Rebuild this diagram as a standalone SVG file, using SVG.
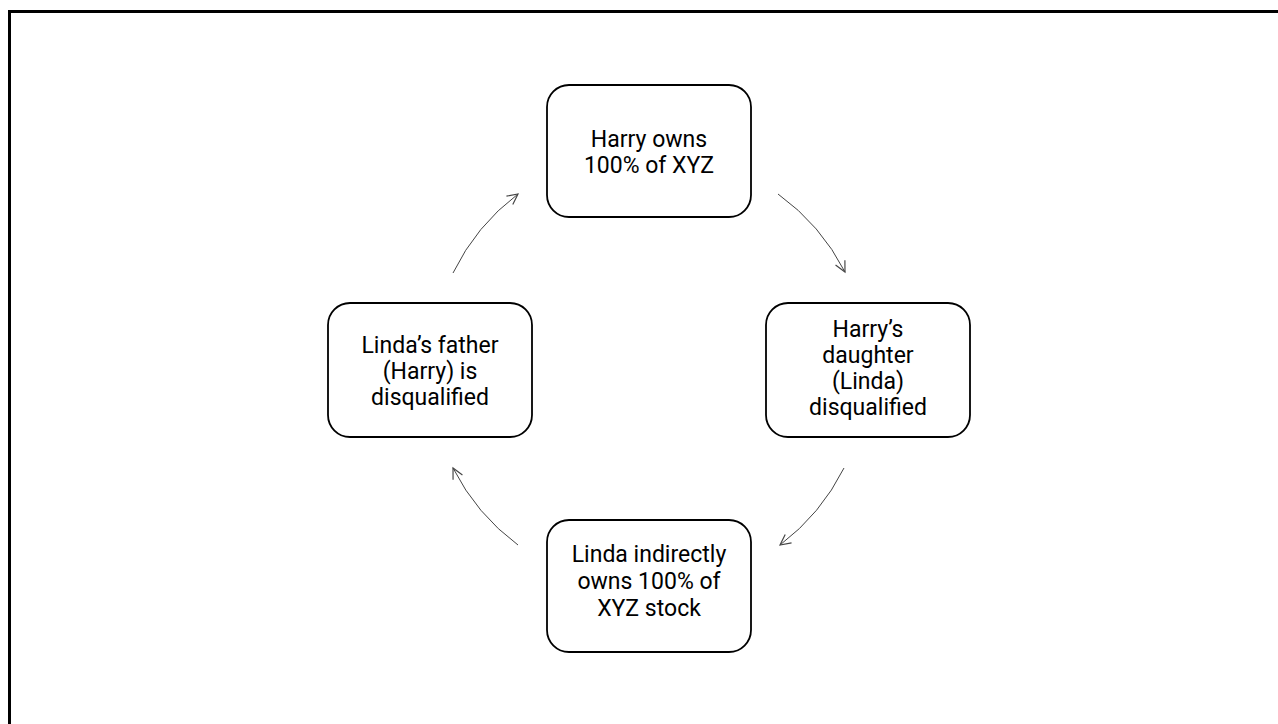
<svg xmlns="http://www.w3.org/2000/svg" width="1278" height="724" viewBox="0 0 1278 724">
<style>
.box{fill:#fff;stroke:#000;stroke-width:1.8}
.t{font-family:Roboto,"Liberation Sans",Arial,sans-serif;font-size:23px;fill:#000;text-anchor:middle}
.c{fill:none;stroke:#444;stroke-width:1}
</style>
<defs>
<marker id="ah" markerUnits="userSpaceOnUse" markerWidth="14" markerHeight="14" refX="10" refY="5" orient="auto" viewBox="0 0 12 10">
<path d="M1,0.5 L10,5 L1,9.5" fill="none" stroke="#444" stroke-width="1"/>
</marker>
</defs>
<rect width="1278" height="724" fill="#fff"/>
<rect x="9.5" y="11.5" width="1300" height="800" fill="none" stroke="#000" stroke-width="3"/>
<g id="connectors">
<path class="c" d="M453,273 A219,219 0 0 1 518,194" marker-end="url(#ah)"/>
<path class="c" d="M778,194 A219,219 0 0 1 845,272" marker-end="url(#ah)"/>
<path class="c" d="M844,468 A219,219 0 0 1 780,545" marker-end="url(#ah)"/>
<path class="c" d="M518,545 A219,219 0 0 1 453,468" marker-end="url(#ah)"/>
</g>
<g id="n1">
<rect class="box" x="547" y="85" width="204" height="132" rx="22"/>
<text class="t" x="649" y="147">Harry owns</text>
<text class="t" x="649" y="173">100% of XYZ</text>
</g>
<g id="n2">
<rect class="box" x="766" y="303" width="204" height="134" rx="22"/>
<text class="t" x="868" y="337">Harry’s</text>
<text class="t" x="868" y="363">daughter</text>
<text class="t" x="868" y="389">(Linda)</text>
<text class="t" x="868" y="415">disqualified</text>
</g>
<g id="n3">
<rect class="box" x="547" y="520" width="204" height="132" rx="22"/>
<text class="t" x="649" y="562">Linda indirectly</text>
<text class="t" x="649" y="589">owns 100% of</text>
<text class="t" x="649" y="616">XYZ stock</text>
</g>
<g id="n4">
<rect class="box" x="328" y="303" width="204" height="134" rx="22"/>
<text class="t" x="430" y="353">Linda’s father</text>
<text class="t" x="430" y="379">(Harry) is</text>
<text class="t" x="430" y="405">disqualified</text>
</g>
</svg>
